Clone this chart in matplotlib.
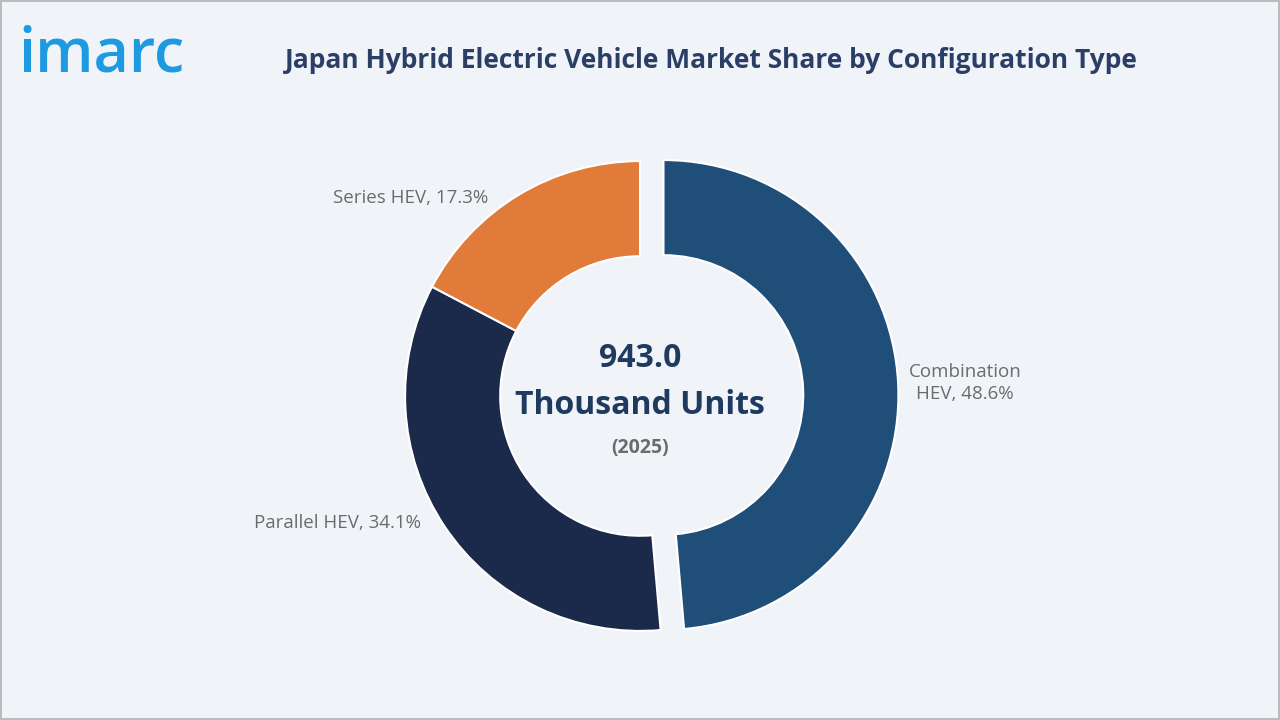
import matplotlib
matplotlib.use("Agg")
import matplotlib.pyplot as plt
from matplotlib.patches import Rectangle

categories = ["Combination HEV", "Parallel HEV", "Series HEV"]
shares = [48.6, 34.1, 17.3]
colors = ["#1f4e79", "#1b2a4b", "#e07b3a"]
center_value = "943.0"
center_unit = "Thousand Units"
center_year = "(2025)"
title = "Japan Hybrid Electric Vehicle Market Share by Configuration Type"

plt.rcParams['font.family'] = ['Open Sans', 'DejaVu Sans']
fig = plt.figure(figsize=(12.8, 7.2), dpi=100)
fig.patch.set_facecolor("#f0f4f9")
fig.add_artist(Rectangle((0.001, 0.001), 0.998, 0.997, transform=fig.transFigure,
                         fill=False, edgecolor="#b0b0b0", linewidth=1.2))

ax = fig.add_axes([340/1280, 24/720, 600/1280, 600/720])
ax.set_facecolor("none")
ax.pie(shares, colors=colors, startangle=90, counterclock=False,
       explode=[0.1, 0, 0], radius=1.0,
       wedgeprops=dict(width=0.405, edgecolor="white", linewidth=1.5))
ax.set_xlim(-1.277, 1.277)
ax.set_ylim(-1.277, 1.277)
ax.set_aspect("equal")
ax.axis("off")

ax.text(0.0, 0.16, center_value, ha="center", va="center", fontsize=23, fontweight="bold", color="#1f3a5f")
ax.text(0.0, -0.04, center_unit, ha="center", va="center", fontsize=23, fontweight="bold", color="#1f3a5f")
ax.text(0.0, -0.22, center_year, ha="center", va="center", fontsize=14, fontweight="bold", color="#6b6b6b")

lab_color = "#6b6b6b"
fig.text(965/1280, 1-383/720, f"Combination\nHEV, {shares[0]}%", ha="center", va="center",
         fontsize=13.5, color=lab_color, linespacing=1.3)
fig.text(338/1280, 1-523/720, f"Parallel HEV, {shares[1]}%", ha="center", va="center",
         fontsize=13.5, color=lab_color)
fig.text(411/1280, 1-198/720, f"Series HEV, {shares[2]}%", ha="center", va="center",
         fontsize=13.5, color=lab_color)

fig.text(711/1280, 1-60/720, title, ha="center", va="center", fontsize=19,
         fontweight="bold", color="#2b3f66")
fig.text(18/1280, 1-56/720, "imarc", ha="left", va="center", fontsize=44,
         fontweight="semibold", color="#1e9ae0")

fig.savefig("out.png", dpi=100, facecolor=fig.get_facecolor())
